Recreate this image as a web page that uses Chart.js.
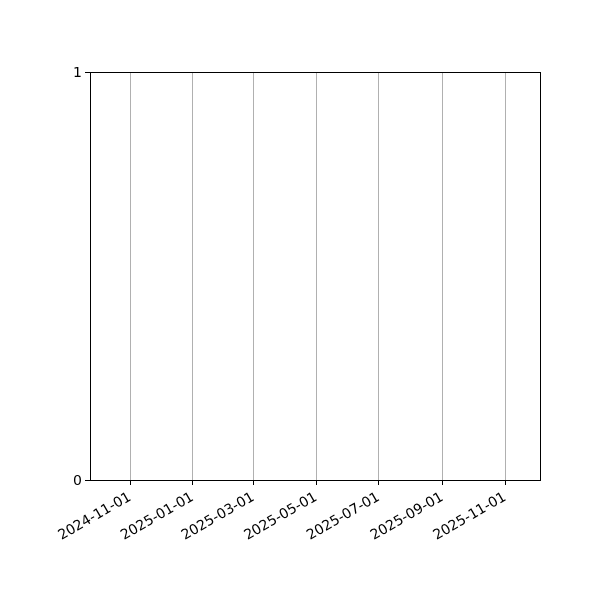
<!DOCTYPE html>
<html>
<head>
<meta charset="utf-8">
<script src="https://cdn.jsdelivr.net/npm/chart.js@4/dist/chart.umd.min.js"></script>
<style>
html,body{margin:0;padding:0;background:#fff;}
#wrap{width:600px;height:600px;}
</style>
</head>
<body>
<div id="wrap"><canvas id="c" width="600" height="600"></canvas></div>
<script>
// Data (the reference chart is empty: no series drawn)
const seriesDates = [];
const seriesValues = [];
const xTickLabels = ["2024-11-01","2025-01-01","2025-03-01","2025-05-01","2025-07-01","2025-09-01","2025-11-01"];
const yTickValues = [0, 1];
const xRange = ["2024-09-23", "2025-12-05"];
const yRange = [0, 1];

const DAY = 86400000;
function dayNum(s){ return Date.parse(s + "T00:00:00Z") / DAY; }

const framePlugin = {
  id: 'frame',
  afterDraw(chart){
    const a = chart.chartArea, ctx = chart.ctx;
    ctx.save();
    ctx.strokeStyle = '#000';
    ctx.lineWidth = 1;
    ctx.strokeRect(Math.round(a.left)+0.5, Math.round(a.top)+0.5, Math.round(a.right-a.left), Math.round(a.bottom-a.top));
    ctx.restore();
  }
};

new Chart(document.getElementById('c'), {
  type: 'line',
  data: {
    datasets: [{
      data: seriesDates.map((d,i)=>({x: dayNum(d), y: seriesValues[i]})),
      borderColor: '#1f77b4',
      pointRadius: 0
    }]
  },
  options: {
    responsive: false,
    animation: false,
    devicePixelRatio: 1,
    layout: { padding: { top: 72, right: 60, left: 0, bottom: 0 } },
    plugins: { legend: { display: false }, tooltip: { enabled: false } },
    scales: {
      x: {
        type: 'linear',
        min: dayNum(xRange[0]),
        max: dayNum(xRange[1]),
        afterBuildTicks(scale){ scale.ticks = xTickLabels.map(d => ({ value: dayNum(d) })); },
        afterFit(scale){ scale.height = 120; },
        ticks: {
          autoSkip: false,
          maxRotation: 30,
          minRotation: 30,
          padding: 4,
          color: '#000',
          font: { family: 'DejaVu Sans', size: 14 },
          callback: (v, i) => xTickLabels[i]
        },
        grid: { color: '#b0b0b0', lineWidth: 1, tickLength: 5, tickColor: '#000', drawOnChartArea: true },
        border: { color: '#000', width: 1 }
      },
      y: {
        type: 'linear',
        min: yRange[0],
        max: yRange[1],
        afterBuildTicks(scale){ scale.ticks = yTickValues.map(v => ({ value: v })); },
        afterFit(scale){ scale.width = 90; },
        ticks: {
          color: '#000',
          padding: 3,
          labelOffset: 1.5,
          font: { family: 'DejaVu Sans', size: 14 },
          callback: (v) => String(v)
        },
        grid: { drawOnChartArea: false, tickLength: 5, tickColor: '#000' },
        border: { color: '#000', width: 1 }
      }
    }
  },
  plugins: [framePlugin]
});
</script>
</body>
</html>
